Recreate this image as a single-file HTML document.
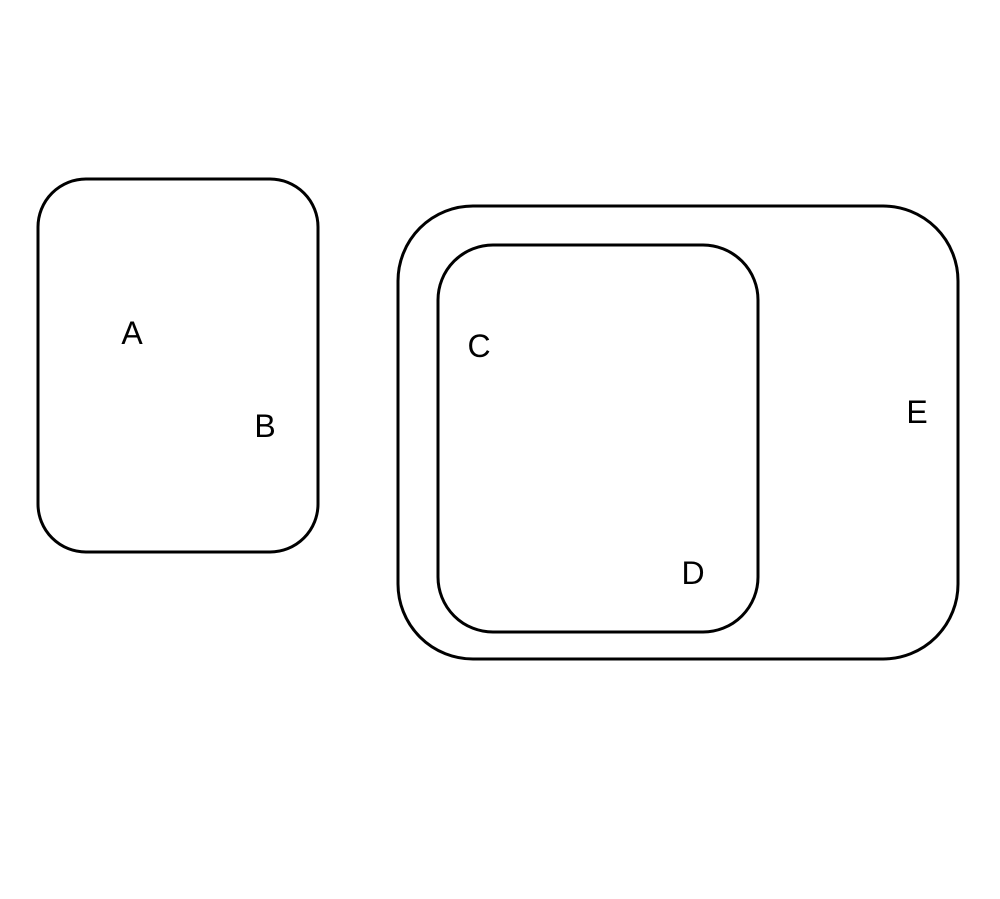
<!DOCTYPE html>
<html><head><meta charset="utf-8"><style>
html,body{margin:0;padding:0;background:#fff;}
svg{display:block;}
text{font-family:"Liberation Sans","DejaVu Sans",sans-serif;font-size:32px;fill:#000;}
</style></head><body>
<svg width="1000" height="899" viewBox="0 0 1000 899">
<rect x="38" y="179" width="280" height="373" rx="48" ry="48" fill="none" stroke="#000" stroke-width="3"/>
<rect x="398" y="206" width="560" height="453" rx="75" ry="75" fill="none" stroke="#000" stroke-width="3"/>
<rect x="438" y="245" width="320" height="387" rx="55" ry="55" fill="none" stroke="#000" stroke-width="3"/>
<text x="132" y="344" text-anchor="middle">A</text>
<text x="265" y="437" text-anchor="middle">B</text>
<text x="479" y="357" text-anchor="middle">C</text>
<text x="693" y="584" text-anchor="middle">D</text>
<text x="917" y="423" text-anchor="middle">E</text>
</svg>
</body></html>
